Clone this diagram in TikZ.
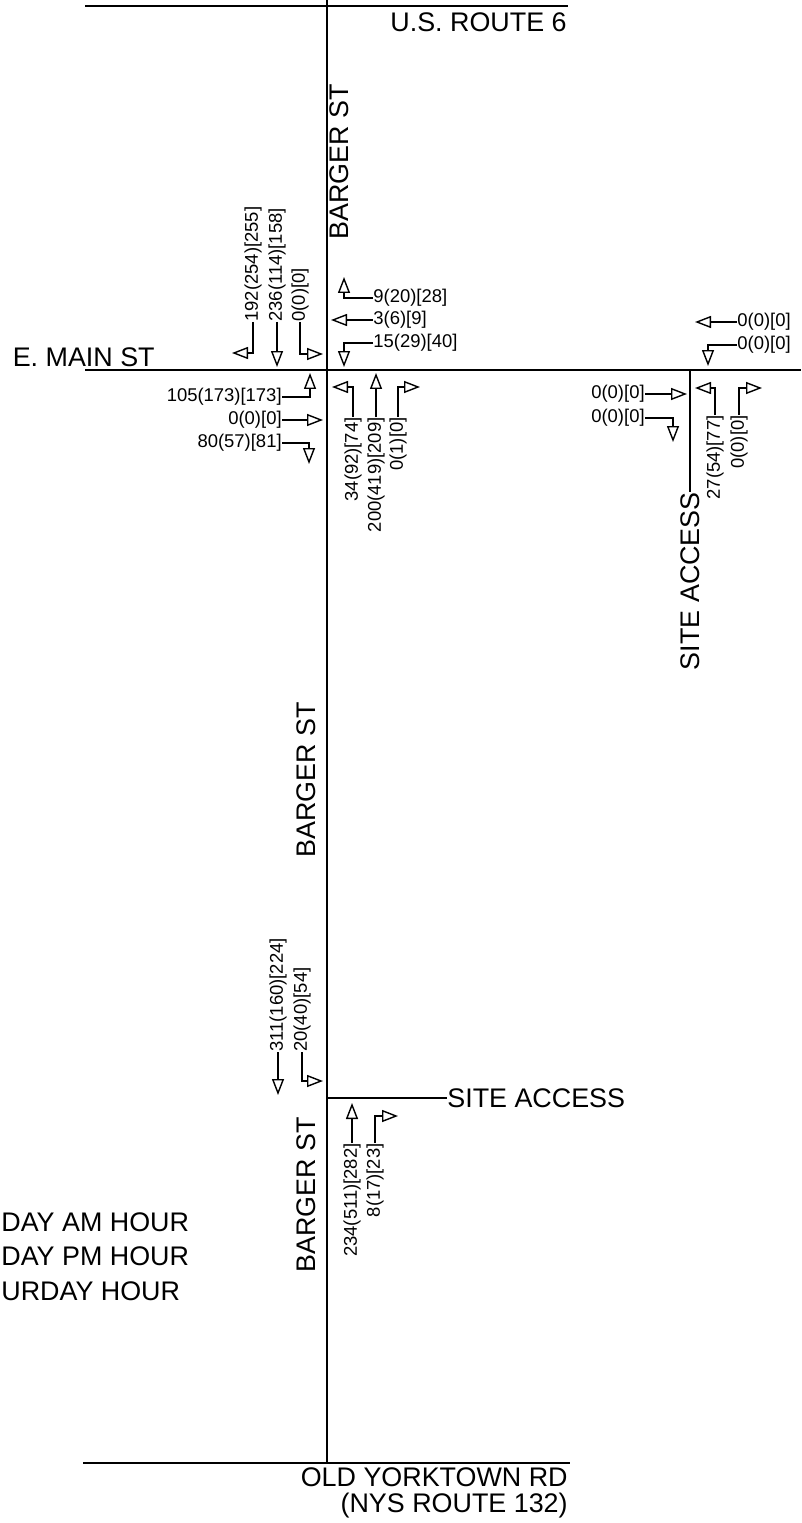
\documentclass[tikz,border=0pt]{standalone}
\usepackage{fontspec}
\setmainfont{Liberation Sans}
\usetikzlibrary{arrows.meta}

\newcommand{\volsize}{\fontsize{10.5}{12}\selectfont}
\newcommand{\roadsize}{\fontsize{15.3}{18}\selectfont}

\begin{document}
\begin{tikzpicture}[x=0.02cm, y=-0.02cm,
  road/.style={line width=1.1pt},
  lead/.style={line width=0.8pt, -{Triangle[open,length=0.32cm,width=0.24cm]}},
  lbl/.style={font=\roadsize, inner sep=0pt},
  vol/.style={font=\volsize, inner sep=0pt},
  rvol/.style={vol, rotate=90}]
\useasboundingbox (0,0) rectangle (801,1523);

% roads
\draw[road] (327,0) -- (327,1463);
\draw[road] (85,6) -- (568,6);
\draw[road] (85,370) -- (801,370);
\draw[road] (83,1463) -- (570,1463);

\node[lbl,anchor=east] (us6) at (567,22) {U.S. ROUTE 6};
\node[lbl,anchor=east] (emain) at (155,357) {E. MAIN ST};
\node[lbl,rotate=90,anchor=west] (bst1) at (339,240) {BARGER ST};
\node[lbl,rotate=90] (bst2) at (306,780) {BARGER ST};
\node[lbl,rotate=90,anchor=east] (bst3) at (306,1117) {BARGER ST};
\node[lbl,rotate=90,anchor=east] (esite) at (690,492) {SITE ACCESS};
\node[lbl,anchor=west] (ssite) at (447,1098) {SITE ACCESS};
\node[lbl,anchor=east] (oyr) at (568,1477) {OLD YORKTOWN RD};
\node[lbl,anchor=east] (nys) at (568,1506) {(NYS ROUTE 132)};
\draw[road] (690,370) -- (esite.east);
\draw[road] (327,1098) -- (ssite.west);

% legend
\node[lbl,anchor=west] (amh) at (1,1222) {DAY AM HOUR};
\node[lbl,anchor=west] (pmh) at (1,1256) {DAY PM HOUR};
\node[lbl,anchor=west] (sah) at (1,1291) {URDAY HOUR};

% Barger St / E. Main St
\node[rvol,anchor=west] (sbR) at (253,322) {192(254)[255]};
\node[rvol,anchor=west] (sbT) at (277,322) {236(114)[158]};
\node[rvol,anchor=west] (sbL) at (300,322) {0(0)[0]};
\coordinate (sbRt) at (232,353);
\coordinate (sbTt) at (277,367);
\coordinate (sbLt) at (323,354);
\draw[lead] (sbR.west) |- (sbRt);
\draw[lead] (sbT.west) -- (sbTt);
\draw[lead] (sbL.west) |- (sbLt);

\node[vol,anchor=west] (wbR) at (373,298) {9(20)[28]};
\node[vol,anchor=west] (wbT) at (373,320) {3(6)[9]};
\node[vol,anchor=west] (wbL) at (373,343) {15(29)[40]};
\coordinate (wbRt) at (344,277);
\coordinate (wbTt) at (331,320);
\coordinate (wbLt) at (344,367);
\draw[lead] (wbR.west) -| (wbRt);
\draw[lead] (wbT.west) -- (wbTt);
\draw[lead] (wbL.west) -| (wbLt);

\node[vol,anchor=east] (ebL) at (282,397) {105(173)[173]};
\node[vol,anchor=east] (ebT) at (282,420) {0(0)[0]};
\node[vol,anchor=east] (ebR) at (282,443) {80(57)[81]};
\coordinate (ebLt) at (310,373);
\coordinate (ebTt) at (323,420);
\coordinate (ebRt) at (309,464);
\draw[lead] (ebL.east) -| (ebLt);
\draw[lead] (ebT.east) -- (ebTt);
\draw[lead] (ebR.east) -| (ebRt);

\node[rvol,anchor=east] (nbL) at (353,417) {34(92)[74]};
\node[rvol,anchor=east] (nbT) at (376,417) {200(419)[209]};
\node[rvol,anchor=east] (nbR) at (398,417) {0(1)[0]};
\coordinate (nbLt) at (332,387);
\coordinate (nbTt) at (376,373);
\coordinate (nbRt) at (420,387);
\draw[lead] (nbL.east) |- (nbLt);
\draw[lead] (nbT.east) -- (nbTt);
\draw[lead] (nbR.east) |- (nbRt);

% E. Main St / site access
\node[vol,anchor=west] (ewT) at (737,322) {0(0)[0]};
\node[vol,anchor=west] (ewL) at (737,345) {0(0)[0]};
\coordinate (ewTt) at (695,322);
\coordinate (ewLt) at (708,366);
\draw[lead] (ewT.west) -- (ewTt);
\draw[lead] (ewL.west) -| (ewLt);

\node[vol,anchor=east] (eeT) at (645,394) {0(0)[0]};
\node[vol,anchor=east] (eeR) at (645,418) {0(0)[0]};
\coordinate (eeTt) at (687,394);
\coordinate (eeRt) at (673,442);
\draw[lead] (eeT.east) -- (eeTt);
\draw[lead] (eeR.east) -| (eeRt);

\node[rvol,anchor=east] (esL) at (715,415) {27(54)[77]};
\node[rvol,anchor=east] (esR) at (739,415) {0(0)[0]};
\coordinate (esLt) at (695,388);
\coordinate (esRt) at (762,388);
\draw[lead] (esL.east) |- (esLt);
\draw[lead] (esR.east) |- (esRt);

% Barger St / site access
\node[rvol,anchor=west] (ssT) at (278,1052) {311(160)[224]};
\node[rvol,anchor=west] (ssL) at (302,1052) {20(40)[54]};
\coordinate (ssTt) at (278,1095);
\coordinate (ssLt) at (323,1081);
\draw[lead] (ssT.west) -- (ssTt);
\draw[lead] (ssL.west) |- (ssLt);

\node[rvol,anchor=east] (snT) at (352,1143) {234(511)[282]};
\node[rvol,anchor=east] (snR) at (375,1143) {8(17)[23]};
\coordinate (snTt) at (352,1103);
\coordinate (snRt) at (398,1116);
\draw[lead] (snT.east) -- (snTt);
\draw[lead] (snR.east) |- (snRt);
\end{tikzpicture}
\end{document}
